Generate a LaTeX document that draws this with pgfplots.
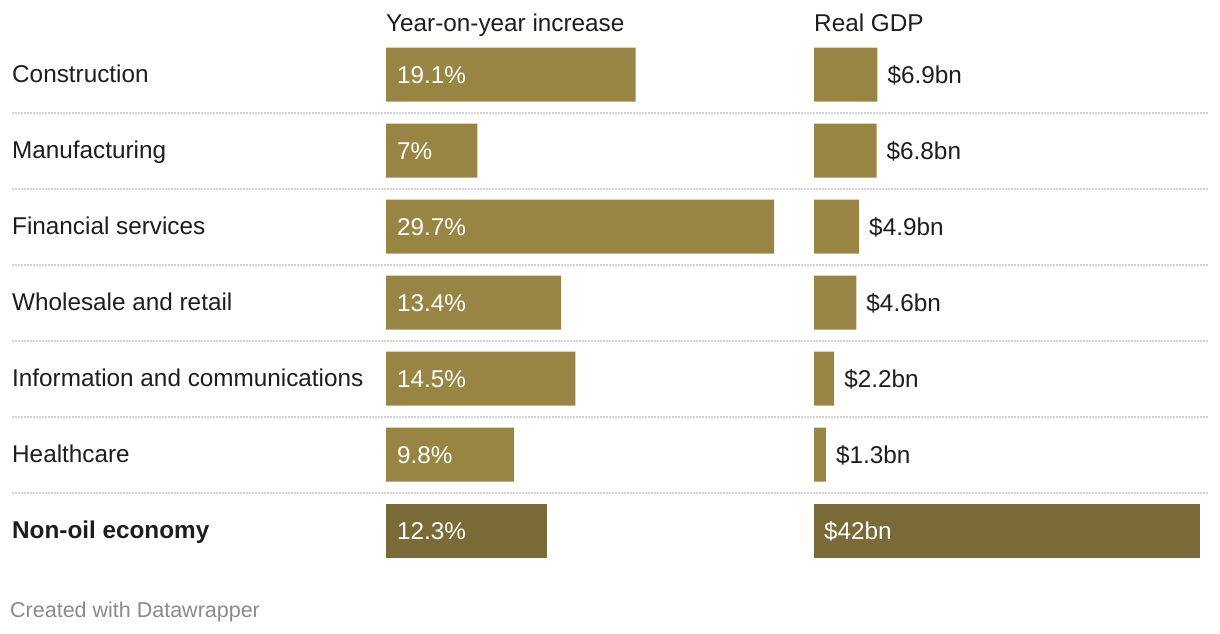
\documentclass[border=0pt]{standalone}
\usepackage{pgfplots}
\pgfplotsset{compat=1.18}
\usepackage{pgfplotstable}
\usepackage{fontspec}
\setmainfont{Liberation Sans}
\definecolor{bar}{HTML}{998543}
\definecolor{bardark}{HTML}{7A6A37}
\definecolor{txt}{HTML}{1D1D1D}
\definecolor{sep}{HTML}{D3D3D3}
\definecolor{foot}{HTML}{8A8A8A}

\pgfplotstableread{
row yoy gdp
0 19.1 6.9
1 7 6.8
2 29.7 4.9
3 13.4 4.6
4 14.5 2.2
5 9.8 1.3
}\sectors
\pgfplotstableread{
row yoy gdp
6 12.3 42
}\total

\newcommand{\lab}{\fontsize{24.3}{29}\selectfont}

\begin{document}
\begin{tikzpicture}[x=1pt,y=1pt,font=\lab]
\path (0,0) rectangle (1220,634);

% separators
\foreach \yy in {113,189,265,341,417,493}{
  \draw[sep, line width=1.4pt, dash pattern=on 1.5pt off 1.5pt] (12,634-\yy) -- (1208,634-\yy);
}

% headers
\node[anchor=base west, txt, inner sep=0pt] at (386,634-32) {Year-on-year increase};
\node[anchor=base west, txt, inner sep=0pt] at (814,634-32) {Real GDP};

% row labels
\node[anchor=base west, txt, inner sep=0pt] at (12,634-83) {Construction};
\node[anchor=base west, txt, inner sep=0pt] at (12,634-159) {Manufacturing};
\node[anchor=base west, txt, inner sep=0pt] at (12,634-235) {Financial services};
\node[anchor=base west, txt, inner sep=0pt] at (12,634-311) {Wholesale and retail};
\node[anchor=base west, txt, inner sep=0pt] at (12,634-387) {Information and communications};
\node[anchor=base west, txt, inner sep=0pt] at (12,634-463) {Healthcare};
\node[anchor=base west, txt, inner sep=0pt] at (12,634-539) {\bfseries Non-oil economy};

% footer
\node[anchor=base west, foot, inner sep=0pt, font=\fontsize{21.5}{26}\selectfont] at (10,634-618) {Created with Datawrapper};

% column 1
\begin{axis}[at={(386pt,65.5pt)}, anchor=south west, scale only axis,
  width=388pt, height=532pt, xmin=0, xmax=29.7, ymin=-0.5, ymax=6.5,
  y dir=reverse, hide axis, clip=false,
  xbar, bar width=0.7105, /pgf/bar shift=0pt,
  /pgf/number format/assume math mode=true,
  point meta=x,
  nodes near coords={\pgfmathprintnumber{\pgfplotspointmeta}\%},
  visualization depends on={rawx \as \rawxv},
  every node near coord/.append style={anchor=base west, white, inner sep=0pt,
     font=\lab, xshift={-\rawxv*13.064pt+11pt}, yshift=-8.5pt},
]
\addplot[fill=bar, draw=none] table[x=yoy, y=row]{\sectors};
\addplot[fill=bardark, draw=none] table[x=yoy, y=row]{\total};
\end{axis}

% column 2
\begin{axis}[at={(814pt,65.5pt)}, anchor=south west, scale only axis,
  width=386pt, height=532pt, xmin=0, xmax=42, ymin=-0.5, ymax=6.5,
  y dir=reverse, hide axis, clip=false,
  xbar, bar width=0.7105, /pgf/bar shift=0pt,
  /pgf/number format/assume math mode=true,
  point meta=x,
  nodes near coords={\$\pgfmathprintnumber{\pgfplotspointmeta}bn},
  visualization depends on={rawx \as \rawxv},
]
\addplot[fill=bar, draw=none,
  every node near coord/.append style={anchor=base west, txt, inner sep=0pt,
     font=\lab, xshift=10pt, yshift=-8.5pt}] table[x=gdp, y=row]{\sectors};
\addplot[fill=bardark, draw=none,
  every node near coord/.append style={anchor=base west, white, inner sep=0pt,
     font=\lab, xshift={-\rawxv*9.1905pt+10pt}, yshift=-8.5pt}] table[x=gdp, y=row]{\total};
\end{axis}
\end{tikzpicture}
\end{document}
